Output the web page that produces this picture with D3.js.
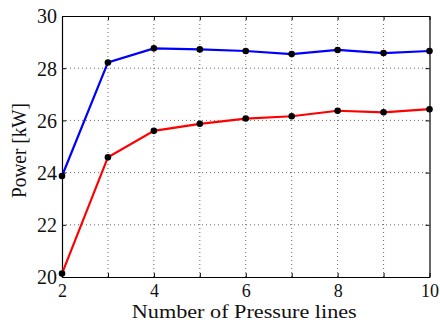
<!DOCTYPE html>
<html><head><meta charset="utf-8">
<script src="https://cdn.jsdelivr.net/npm/d3@7"></script>
<style>body{margin:0;background:#fff}</style>
</head><body><svg id="c" width="440" height="322"></svg>
<script>
const xValues = [2,3,4,5,6,7,8,9,10];
const blueSeries = [23.87,28.22,28.76,28.72,28.66,28.54,28.70,28.58,28.66];
const redSeries = [20.13,24.59,25.60,25.87,26.07,26.16,26.37,26.31,26.43];
const xTicks = [2,3,4,5,6,7,8,9,10];
const xTickLabels = [2,4,6,8,10];
const yTicks = [20,22,24,26,28,30];

const FONT = "'Liberation Serif', 'Times New Roman', 'DejaVu Serif', serif";
const svg = d3.select("#c");
const L=62,T=16,R=429.5,B=277;
const x = d3.scaleLinear().domain([2,10]).range([L,R]);
const y = d3.scaleLinear().domain([20,30]).range([B,T]);

// grid
const g = svg.append("g");
g.selectAll(".gx").data(xTicks.filter(d=>d>2&&d<10)).enter().append("line")
 .attr("x1",d=>x(d)).attr("x2",d=>x(d)).attr("y1",T).attr("y2",B)
 .attr("stroke","#444").attr("stroke-width",0.8).attr("stroke-dasharray","1,3");
g.selectAll(".gy").data(yTicks.filter(d=>d>20&&d<30)).enter().append("line")
 .attr("x1",L).attr("x2",R).attr("y1",d=>y(d)).attr("y2",d=>y(d))
 .attr("stroke","#444").attr("stroke-width",0.8).attr("stroke-dasharray","1,3");

// axes
const xb = svg.append("g").attr("transform",`translate(0,${B})`)
 .call(d3.axisBottom(x).tickValues(xTicks).tickSizeInner(-4).tickSizeOuter(0).tickPadding(8)
 .tickFormat(d=>xTickLabels.includes(d)?d:""));
const xt = svg.append("g").attr("transform",`translate(0,${T})`)
 .call(d3.axisTop(x).tickValues(xTicks).tickSizeInner(-4).tickSizeOuter(0).tickFormat(""));
const yl = svg.append("g").attr("transform",`translate(${L},0)`)
 .call(d3.axisLeft(y).tickValues(yTicks).tickSizeInner(-4).tickSizeOuter(0).tickPadding(5));
const yr = svg.append("g").attr("transform",`translate(${R},0)`)
 .call(d3.axisRight(y).tickValues(yTicks).tickSizeInner(-4).tickSizeOuter(0).tickFormat(""));
[xb,xt,yl,yr].forEach(a=>{a.attr("font-family",null).attr("font-size",null);
 a.select(".domain").attr("stroke","#000").attr("stroke-width",1.2);
 a.selectAll(".tick line").attr("stroke","#000");
 a.selectAll("text").style("font-family",FONT).style("font-size","20px").attr("fill","#111");});
xb.selectAll("text").style("font-size","18px").attr("dy","0.68em");
yl.selectAll("text").attr("dy","0.34em");

// lines
const line = d3.line().x((d,i)=>x(xValues[i])).y(d=>y(d));
[[blueSeries,"#0000ff"],[redSeries,"#ff0000"]].forEach(([s,c])=>{
 svg.append("path").datum(s).attr("d",line).attr("fill","none").attr("stroke",c).attr("stroke-width",2.2);
 svg.selectAll(null).data(s).enter().append("circle").attr("cx",(d,i)=>x(xValues[i])).attr("cy",d=>y(d)).attr("r",3.3).attr("fill","#000");
});

svg.append("text").attr("x",(L+R)/2-1.5).attr("y",318).attr("text-anchor","middle")
 .style("font-family",FONT).style("font-size","18px").attr("fill","#111")
 .attr("textLength",225).attr("lengthAdjust","spacingAndGlyphs").text("Number of Pressure lines");
svg.append("text").attr("transform","translate(26,150.5) rotate(-90)").attr("text-anchor","middle")
 .style("font-family",FONT).style("font-size","20px").attr("fill","#111")
 .attr("textLength",95).attr("lengthAdjust","spacingAndGlyphs").text("Power [kW]");
</script></body></html>
